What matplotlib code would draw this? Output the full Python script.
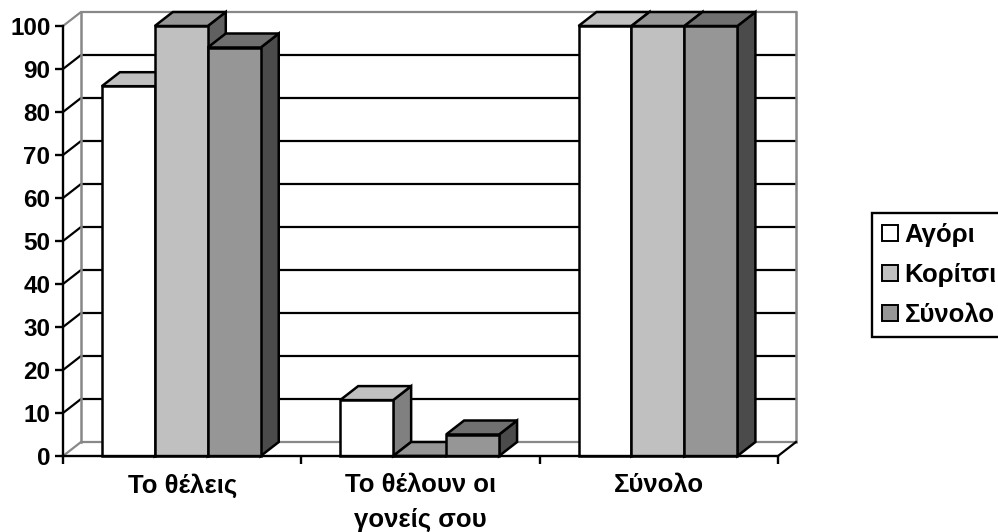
import matplotlib
matplotlib.use('Agg')
import matplotlib.pyplot as plt
from matplotlib.patches import Patch

plt.rcParams['font.family'] = ['Liberation Sans', 'DejaVu Sans']

categories = ['Το θέλεις', 'Το θέλουν οι\nγονείς σου', 'Σύνολο']
series_names = ['Αγόρι', 'Κορίτσι', 'Σύνολο']
agori = [86, 13, 100]
koritsi = [100, 0, 100]
synolo = [95, 5, 100]
yticks = [0, 10, 20, 30, 40, 50, 60, 70, 80, 90, 100]

front_colors = ['#ffffff', '#c0c0c0', '#969696']
top_colors = ['#c0c0c0', '#969696', '#707070']
side_colors = ['#808080', '#606060', '#4b4b4b']

W, H = 998, 532
fig = plt.figure(figsize=(W / 100, H / 100), dpi=100)
ax = fig.add_axes([63 / W, 1 - 456 / H, 715 / W, 430 / H])
ax.set_xlim(0, 3)
ax.set_ylim(0, 100)
for s in ['top', 'right']:
    ax.spines[s].set_visible(False)
for s in ['left', 'bottom']:
    ax.spines[s].set_linewidth(1.7)
    ax.spines[s].set_zorder(8)

# depth of the fake 3d box, in data units
dx = 18 / (715 / 3)
dy = 14 / 4.3
lw = 1.8
grey = '#888888'

# back wall and floor
for v in yticks:
    col = grey if v in (0, 100) else 'black'
    ax.plot([0, dx, 3 + dx], [v, v + dy, v + dy], color=col, lw=1.6, clip_on=False, zorder=1,
            solid_joinstyle='miter')
ax.plot([dx, dx], [dy, 100 + dy], color=grey, lw=1.8, clip_on=False, zorder=1.5)
ax.plot([3 + dx, 3 + dx], [dy, 100 + dy], color=grey, lw=1.8, clip_on=False, zorder=1.5)
ax.plot([3, 3 + dx], [0, dy], color='black', lw=1.6, clip_on=False, zorder=1.5)

# bars
width = 2 / 9
z = 2
for i in range(len(categories)):
    for j, vals in enumerate([agori, koritsi, synolo]):
        x0 = i + 0.163 + j * width
        x1 = x0 + width
        v = vals[i]
        ax.fill([x1, x1 + dx, x1 + dx, x1], [0, dy, v + dy, v], facecolor=side_colors[j],
                edgecolor='black', lw=lw, clip_on=False, zorder=z, joinstyle='miter')
        ax.fill([x0, x0 + dx, x1 + dx, x1], [v, v + dy, v + dy, v], facecolor=top_colors[j],
                edgecolor='black', lw=lw, clip_on=False, zorder=z, joinstyle='miter')
        ax.bar(x0, v, width, align='edge', color=front_colors[j], edgecolor='black',
               lw=lw, clip_on=False, zorder=z + 0.1)
        z += 0.2

ax.set_yticks(yticks)
ax.set_yticklabels([str(v) for v in yticks], fontsize=17.5, fontweight='bold')
ax.set_xticks([0, 1, 2, 3])
ax.set_xticklabels([])
ax.set_xticks([0.5, 1.5, 2.5], minor=True)
ax.set_xticklabels(categories, minor=True, fontsize=18.5, fontweight='bold', linespacing=1.55)
ax.tick_params(axis='x', which='major', length=6, width=1.7, direction='out')
ax.tick_params(axis='x', which='minor', length=0, pad=12.5)
ax.tick_params(axis='y', length=6, width=1.7, direction='out', pad=3)

handles = [Patch(facecolor=c, edgecolor='black', lw=1.4) for c in front_colors]
leg = ax.legend(handles, series_names, loc='upper left',
                bbox_to_anchor=(872 / W, 1 - 213 / H), bbox_transform=fig.transFigure,
                prop={'size': 18.5, 'weight': 'bold'}, fancybox=False, framealpha=1,
                edgecolor='black', handlelength=0.6, handleheight=0.6, handletextpad=0.27,
                labelspacing=0.62, borderpad=0.4, borderaxespad=0)
leg.get_frame().set_linewidth(1.7)

plt.savefig('out.png', dpi=100)
